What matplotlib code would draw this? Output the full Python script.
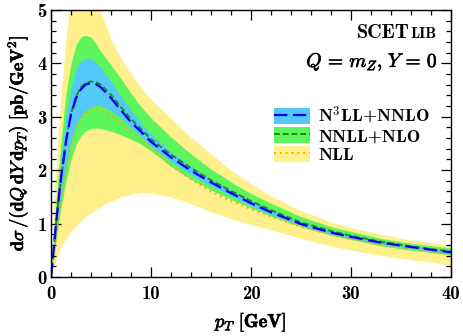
import matplotlib
matplotlib.use("Agg")
import matplotlib.pyplot as plt
import matplotlib.patheffects as pe
from matplotlib.patches import Patch
from matplotlib.legend_handler import HandlerTuple
from matplotlib.ticker import MultipleLocator

plt.rcParams['mathtext.fontset'] = 'cm'

pT = [0, 0.25, 0.5, 0.75, 1, 1.5, 2, 2.5, 3, 3.5, 4, 4.5, 5, 6, 7, 8, 9, 10,
      12, 14, 16, 18, 20, 22, 25, 28, 30, 33, 36, 40]

n3ll = [0, 0.5, 1.0, 1.45, 1.85, 2.55, 3.05, 3.35, 3.52, 3.61, 3.63, 3.61, 3.55,
        3.35, 3.12, 2.90, 2.72, 2.53, 2.24, 1.99, 1.77, 1.57, 1.38, 1.21, 0.99,
        0.83, 0.75, 0.64, 0.56, 0.46]
n3ll_hi = [0, 0.6, 1.2, 1.75, 2.25, 3.0, 3.55, 3.88, 4.05, 4.1, 4.09, 4.02, 3.92,
           3.66, 3.38, 3.12, 2.88, 2.68, 2.34, 2.07, 1.84, 1.62, 1.43, 1.26, 1.03,
           0.87, 0.79, 0.68, 0.59, 0.50]
n3ll_lo = [0, 0.4, 0.8, 1.15, 1.5, 2.1, 2.55, 2.85, 3.03, 3.13, 3.19, 3.21, 3.21,
           3.12, 2.97, 2.80, 2.63, 2.45, 2.16, 1.92, 1.71, 1.52, 1.33, 1.17, 0.96,
           0.80, 0.72, 0.61, 0.53, 0.43]

nnll = [0, 0.5, 1.0, 1.45, 1.85, 2.55, 3.06, 3.38, 3.56, 3.64, 3.66, 3.65, 3.60,
        3.41, 3.18, 2.96, 2.77, 2.58, 2.29, 2.04, 1.81, 1.61, 1.42, 1.25, 1.02,
        0.86, 0.77, 0.66, 0.57, 0.47]
nnll_hi = [0, 0.7, 1.4, 2.0, 2.55, 3.45, 4.0, 4.35, 4.5, 4.53, 4.49, 4.37, 4.22,
           3.97, 3.71, 3.44, 3.19, 2.98, 2.62, 2.30, 2.02, 1.78, 1.56, 1.38, 1.13,
           0.94, 0.85, 0.72, 0.63, 0.54]
nnll_lo = [0, 0.35, 0.7, 1.0, 1.3, 1.8, 2.2, 2.48, 2.65, 2.74, 2.78, 2.79, 2.78,
           2.73, 2.66, 2.58, 2.49, 2.36, 2.07, 1.83, 1.63, 1.45, 1.29, 1.14, 0.94,
           0.78, 0.70, 0.58, 0.50, 0.41]

nll = [0, 0.35, 0.7, 1.08, 1.45, 2.05, 2.45, 2.78, 2.97, 3.08, 3.13, 3.14, 3.12,
       3.03, 2.88, 2.72, 2.56, 2.40, 2.09, 1.83, 1.60, 1.42, 1.27, 1.13, 0.94,
       0.79, 0.71, 0.61, 0.53, 0.43]
nll_hi = [0, 1.25, 2.1, 2.75, 3.4, 4.5, 5.25, 5.7, 5.85, 5.75, 5.45, 5.18, 4.95,
          4.45, 4.1, 3.8, 3.55, 3.33, 2.97, 2.62, 2.30, 2.00, 1.74, 1.52, 1.24,
          1.03, 0.92, 0.80, 0.69, 0.60]
nll_lo = [0, 0.15, 0.3, 0.45, 0.58, 0.72, 0.85, 0.95, 1.05, 1.13, 1.2, 1.27, 1.32,
          1.42, 1.5, 1.55, 1.58, 1.57, 1.5, 1.37, 1.22, 1.09, 0.98, 0.88, 0.72,
          0.58, 0.50, 0.40, 0.32, 0.23]

labels = [r'N$^\mathbf{3}$LL+NNLO', 'NNLL+NLO', 'NLL']
c_yellow = '#fff08c'
c_green = '#5cf55c'
c_blue = '#55c8fa'

fig = plt.figure(figsize=(4.64, 3.36), dpi=100)
ax = fig.add_axes([0.110, 0.176, 0.862, 0.794])

ax.fill_between(pT, nll_lo, nll_hi, color=c_yellow, lw=0)
ax.fill_between(pT, nnll_lo, nnll_hi, color=c_green, lw=0)
ax.fill_between(pT, n3ll_lo, n3ll_hi, color=c_blue, lw=0)
l3, = ax.plot(pT, nll, color='#ffa500', ls=(0, (1, 2)), lw=1.4)
l2, = ax.plot(pT, nnll, color='#1e8c1e', ls=(0, (3, 1.5)), lw=1.4)
l1, = ax.plot(pT, n3ll, color='#0000ee', ls=(0, (6, 2.5)), lw=1.6)

ax.set_xlim(0, 40)
ax.set_ylim(0, 5)
ax.xaxis.set_major_locator(MultipleLocator(10))
ax.xaxis.set_minor_locator(MultipleLocator(2))
ax.yaxis.set_major_locator(MultipleLocator(1))
ax.yaxis.set_minor_locator(MultipleLocator(0.2))
ax.tick_params(which='both', direction='in', top=True, right=True, width=0.9)
ax.tick_params(which='major', length=7)
ax.tick_params(which='minor', length=3.5)
for s in ax.spines.values():
    s.set_linewidth(1.0)
for lab in ax.get_xticklabels() + ax.get_yticklabels():
    lab.set_fontfamily('cmb10')
    lab.set_fontsize(13.5)
ax.tick_params(axis='x', pad=6)
ax.tick_params(axis='y', pad=3)

bold = [pe.withStroke(linewidth=0.45, foreground='black')]
ax.set_xlabel(r'$p_T\ \mathbf{[GeV]}$', fontsize=13.5, labelpad=5, path_effects=bold)
ax.set_ylabel(r'$\mathbf{d}\sigma\,\mathbf{/(d}Q\,\mathbf{d}Y\,\mathbf{d}p_T\mathbf{)\ [pb/GeV}^{\mathbf{2}}\mathbf{]}$',
              fontsize=13.2, labelpad=5, path_effects=bold)

fig.canvas.draw()
renderer = fig.canvas.get_renderer()
xr = 0.965
t_lib = ax.text(xr, 0.895, 'LIB', transform=ax.transAxes, ha='right', va='baseline',
                fontfamily='cmb10', fontsize=11)
bb = t_lib.get_window_extent(renderer).transformed(ax.transAxes.inverted())
ax.text(bb.x0 - 0.003, 0.895, 'SCET', transform=ax.transAxes, ha='right', va='baseline',
        fontfamily='cmb10', fontsize=14.5)
ax.text(0.967, 0.787, r'$Q\,\mathbf{=}\,m_Z\mathbf{,}\ Y\,\mathbf{=}\,\mathbf{0}$',
        transform=ax.transAxes, ha='right', va='baseline', fontsize=14, path_effects=bold)

handles = [(Patch(color=c_blue, lw=0), l1), (Patch(color=c_green, lw=0), l2),
           (Patch(color=c_yellow, lw=0), l3)]
leg = ax.legend(handles, labels, handler_map={tuple: HandlerTuple(ndivide=1, pad=0)},
                loc='upper right', bbox_to_anchor=(0.948, 0.645), frameon=False,
                prop={'family': 'cmb10', 'size': 13}, handlelength=2.0,
                handleheight=0.95, labelspacing=0.08, handletextpad=0.45,
                borderaxespad=0, borderpad=0)

fig.savefig('out.png', dpi=100)
